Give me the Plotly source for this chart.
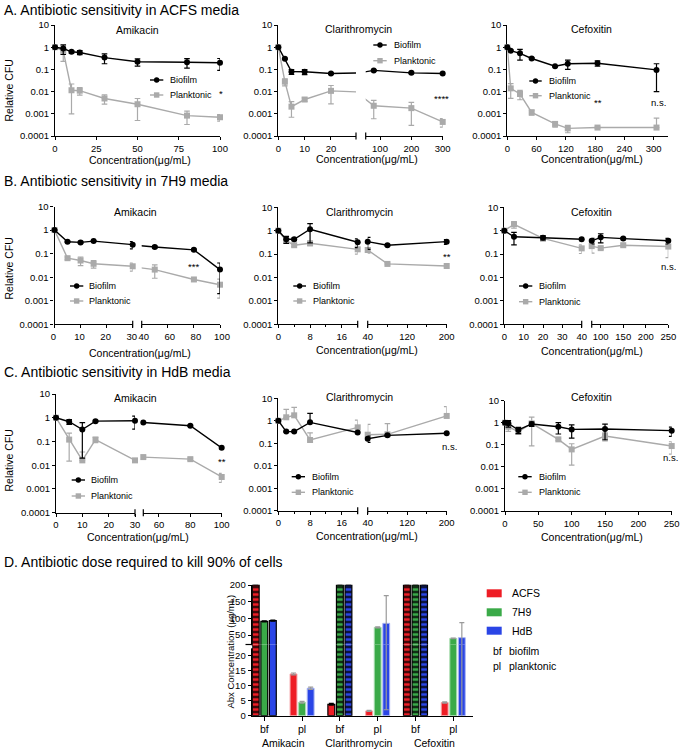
import plotly.graph_objects as go

W, H = 681, 749
FONT = "Liberation Sans, Arial, sans-serif"

# ---------------- data ----------------
LOG_TICKS = [1e-4, 1e-3, 1e-2, 1e-1, 1, 10]
LOG_LABELS = ["0.0001", "0.001", "0.01", "0.1", "1", "10"]

# A. ACFS
A_AMK_CONC = [0, 5, 10, 15, 30, 50, 80, 100]
A_AMK_BF = [1, 0.87, 0.62, 0.58, 0.34, 0.22, 0.21, 0.20]
A_AMK_BF_SD = [0, 0.4, 0.08, 0.12, 0.16, 0.08, 0.095, 0.11]
A_AMK_PL = [1, 0.68, 0.0115, 0.011, 0.0049, 0.0027, 0.00083, 0.0007]
A_AMK_PL_SD = [0, 0.45, 0.0105, 0.004, 0.0022, 0.0022, 0.0005, 0.00023]

A_CLA_CONC = [0, 2.5, 5, 10, 20, 80, 200, 300]
A_CLA_BF = [1, 0.30, 0.079, 0.078, 0.065, 0.09, 0.07, 0.065]
A_CLA_BF_SD = [0, 0.02, 0.02, 0.02, 0.005, 0.008, 0.005, 0.005]
A_CLA_PL = [1, 0.028, 0.0021, 0.0044, 0.0108, 0.0023, 0.0018, 0.00043]
A_CLA_PL_SD = [0, 0.01, 0.0014, 0.0008, 0.008, 0.0017, 0.0015, 0.00018]

A_CEF_CONC = [0, 7, 26, 50, 98, 124, 185, 306]
A_CEF_BF = [1, 0.7, 0.53, 0.31, 0.14, 0.18, 0.19, 0.095]
A_CEF_BF_SD = [0, 0.05, 0.27, 0.03, 0.01, 0.08, 0.05, 0.085]
A_CEF_PL = [1, 0.014, 0.0078, 0.00116, 0.00035, 0.00022, 0.00024, 0.00024]
A_CEF_PL_SD = [0, 0.009, 0.0035, 0.0003, 0.0001, 0.00008, 0.00002, 0.0004]

# B. 7H9
B_AMK_CONC = [0, 5, 10, 15, 30, 50, 80, 100]
B_AMK_BF = [1, 0.32, 0.30, 0.34, 0.24, 0.19, 0.145, 0.021]
B_AMK_BF_SD = [0, 0.02, 0.03, 0.02, 0.08, 0.02, 0.01, 0.019]
B_AMK_PL = [1, 0.064, 0.051, 0.037, 0.029, 0.021, 0.008, 0.0048]
B_AMK_PL_SD = [0, 0.008, 0.02, 0.013, 0.011, 0.012, 0.001, 0.0035]

B_CLA_CONC = [0, 2, 4, 8, 20, 40, 80, 200]
B_CLA_BF = [1, 0.43, 0.43, 1.15, 0.32, 0.34, 0.24, 0.34]
B_CLA_BF_SD = [0, 0.14, 0.05, 0.85, 0.13, 0.18, 0.02, 0.08]
B_CLA_PL = [1, 0.37, 0.24, 0.29, 0.16, 0.15, 0.038, 0.031]
B_CLA_PL_SD = [0, 0.03, 0.03, 0.06, 0.06, 0.04, 0.003, 0.003]

B_CEF_CONC = [0, 5, 20, 40, 80, 100, 150, 250]
B_CEF_BF = [1, 0.55, 0.50, 0.43, 0.37, 0.52, 0.46, 0.37]
B_CEF_BF_SD = [0, 0.3, 0.1, 0.05, 0.1, 0.22, 0.05, 0.1]
B_CEF_PL = [1, 1.87, 0.47, 0.176, 0.22, 0.18, 0.24, 0.21]
B_CEF_PL_SD = [0, 0.6, 0.1, 0.07, 0.11, 0.02, 0.03, 0.14]

# C. HdB
C_AMK_CONC = [0, 5, 10, 15, 30, 50, 80, 100]
C_AMK_BF = [1, 0.68, 0.32, 0.72, 0.75, 0.63, 0.46, 0.054]
C_AMK_BF_SD = [0, 0.15, 0.3, 0.05, 0.42, 0.03, 0.03, 0.005]
C_AMK_PL = [1, 0.12, 0.016, 0.12, 0.016, 0.022, 0.018, 0.0032]
C_AMK_PL_SD = [0, 0.105, 0.02, 0.03, 0.002, 0.003, 0.002, 0.0013]

C_CLA_CONC = [0, 2, 4, 8, 20, 40, 80, 200]
C_CLA_BF = [1, 0.33, 0.33, 0.85, 0.30, 0.16, 0.225, 0.28]
C_CLA_BF_SD = [0, 0.02, 0.02, 1.3, 0.03, 0.05, 0.02, 0.02]
C_CLA_PL = [1, 1.43, 1.75, 0.14, 0.51, 0.24, 0.25, 1.64]
C_CLA_PL_SD = [0, 1.8, 2.2, 0.15, 0.55, 0.45, 0.5, 2.6]

C_CEF_CONC = [0, 5, 20, 40, 80, 100, 150, 250]
C_CEF_BF = [1, 0.94, 0.47, 0.88, 0.66, 0.50, 0.52, 0.44]
C_CEF_BF_SD = [0, 0.3, 0.15, 0.2, 0.35, 0.3, 0.35, 0.2]
C_CEF_PL = [1, 0.66, 0.39, 0.94, 0.177, 0.062, 0.25, 0.088]
C_CEF_PL_SD = [0, 0.25, 0.08, 0.85, 0.02, 0.05, 0.1, 0.05]

# D. dose required to kill 90% (ug/mL); 200 = not reached
D_ABX = ["Amikacin", "Clarithromycin", "Cefoxitin"]
D_MEDIA = ["ACFS", "7H9", "HdB"]
D_ACFS_BF = [200, 3.8, 200]
D_ACFS_PL = [14.0, 1.6, 4.4]
D_7H9_BF = [91, 200, 200]
D_7H9_PL = [4.5, 73, 40]
D_HDB_BF = [93, 200, 200]
D_HDB_PL = [9.2, 85, 42]
D_ACFS_BF_SD = [0, 0.3, 0]
D_ACFS_PL_SD = [0.3, 0.2, 0.2]
D_7H9_BF_SD = [1.5, 0, 0]
D_7H9_PL_SD = [0.3, 1.5, 1.0]
D_HDB_BF_SD = [1.5, 0, 0]
D_HDB_PL_SD = [0.4, 83, 45]

# ---------------- styling helpers ----------------
BF_COLOR = "#000000"
PL_COLOR = "#aaaaaa"
MEDIA_COLORS = {"ACFS": "#ee1d25", "7H9": "#3aaa48", "HdB": "#2a45e6"}
TICK_SIZE = 9.5
LEG_SIZE = 9


def px(x):
    return x / W


def py(y):
    return 1 - y / H


layout = {}
shapes = []
annotations = []
traces = []
counters = {"x": 0, "y": 0}


def axis_name(kind):
    counters[kind] += 1
    n = counters[kind]
    if n == 1:
        return kind, kind + "axis"
    return f"{kind}{n}", f"{kind}axis{n}"


def ax_common():
    return dict(showgrid=False, zeroline=False, showline=True, linecolor="black",
                linewidth=1.2, ticks="outside", ticklen=3, tickwidth=1.2, tickcolor="black",
                tickfont=dict(family=FONT, size=TICK_SIZE, color="black"),
                layer="below traces", fixedrange=True, automargin=False)


def text(x, y, s, size=10, anchor="center", angle=0):
    annotations.append(dict(x=px(x), y=py(y), xref="paper", yref="paper", text=s,
                            showarrow=False, textangle=angle,
                            font=dict(family=FONT, size=size, color="black"),
                            xanchor=anchor, yanchor="middle"))


def line(x0, y0, x1, y1, color="black", width=1.2):
    shapes.append(dict(type="line", xref="paper", yref="paper", x0=px(x0), y0=py(y0),
                       x1=px(x1), y1=py(y1), line=dict(color=color, width=width)))


def blob(cx, cy, r, color, kind):
    shapes.append(dict(type=kind, xref="paper", yref="paper", x0=px(cx - r), x1=px(cx + r),
                       y0=py(cy + r), y1=py(cy - r), fillcolor=color, line=dict(width=0)))


def err_minus(vals, sd):
    return [s if s < v else 0 for v, s in zip(vals, sd)]


PANELS = [
    dict(data=(A_AMK_CONC, A_AMK_BF, A_AMK_BF_SD, A_AMK_PL, A_AMK_PL_SD), name="Amikacin",
         ybox=(25, 136), segs=[((55, 220), (0, 100), dict(dtick=25, tick0=0))],
         title=(137, 30), xlab=(140, 160), leg=(150, 163.3, 168, 80, 95),
         sig=[("*", 221, 94)], ylab=91),
    dict(data=(A_CLA_CONC, A_CLA_BF, A_CLA_BF_SD, A_CLA_PL, A_CLA_PL_SD), name="Clarithromycin",
         ybox=(25, 136), segs=[((278.3, 356), (0, 29.5), dict(dtick=10, tick0=0)),
                               ((365.7, 442.7), (54.4, 300), dict(dtick=100, tick0=0))],
         title=(358, 29), xlab=(366.7, 159.3), leg=(373.3, 386.7, 391.7, 45, 60.7),
         sig=[("****", 441.7, 98)]),
    dict(data=(A_CEF_CONC, A_CEF_BF, A_CEF_BF_SD, A_CEF_PL, A_CEF_PL_SD), name="Cefoxitin",
         ybox=(25, 136), segs=[((507.3, 668.2), (0, 330), dict(dtick=60, tick0=0))],
         title=(591.7, 29), xlab=(591.7, 159.3), leg=(529.3, 541.7, 547.3, 81, 95.7),
         sig=[("**", 598, 103), ("n.s.", 658, 102.7)]),
    dict(data=(B_AMK_CONC, B_AMK_BF, B_AMK_BF_SD, B_AMK_PL, B_AMK_PL_SD), name="Amikacin",
         ybox=(206.5, 324.3), segs=[((54.5, 132.7), (0, 30), dict(dtick=10, tick0=0, ticklabelshift=-1)),
                                    ((141.7, 220), (40, 100), dict(dtick=20, tick0=0, ticklabelshift=2))],
         title=(135, 211.7), xlab=(140, 353.3), leg=(70, 83.3, 87.3, 286, 301),
         sig=[("***", 193.3, 266)], ylab=269),
    dict(data=(B_CLA_CONC, B_CLA_BF, B_CLA_BF_SD, B_CLA_PL, B_CLA_PL_SD), name="Clarithromycin",
         ybox=(207.3, 324.3), segs=[((278.3, 357.7), (0, 20), dict(dtick=8, tick0=0, minor=4)),
                                    ((367.7, 446.7), (40, 200), dict(dtick=80, tick0=40, minor=40))],
         title=(359.3, 211.7), xlab=(366.7, 350), leg=(293.3, 306, 310.7, 286, 301),
         sig=[("**", 446.7, 256)]),
    dict(data=(B_CEF_CONC, B_CEF_BF, B_CEF_BF_SD, B_CEF_PL, B_CEF_PL_SD), name="Cefoxitin",
         ybox=(207.3, 324.3), segs=[((504.3, 581.7), (0, 40), dict(dtick=10, tick0=0)),
                                    ((591.7, 668.3), (80, 250), dict(dtick=50, tick0=0))],
         title=(591.7, 211.7), xlab=(591.7, 351), leg=(519, 532.3, 537.3, 286, 301.7),
         sig=[("n.s.", 668, 266)]),
    dict(data=(C_AMK_CONC, C_AMK_BF, C_AMK_BF_SD, C_AMK_PL, C_AMK_PL_SD), name="Amikacin",
         ybox=(394, 512.7), segs=[((56, 135), (0, 30), dict(dtick=10, tick0=0)),
                                  ((143.3, 221.7), (50, 100), dict(dtick=20, tick0=0))],
         title=(135, 398.3), xlab=(138.3, 536.7), leg=(71.7, 85, 89.3, 480, 496),
         sig=[("**", 221.7, 461.7)], ylab=461),
    dict(data=(C_CLA_CONC, C_CLA_BF, C_CLA_BF_SD, C_CLA_PL, C_CLA_PL_SD), name="Clarithromycin",
         ybox=(398.3, 510.7), segs=[((278.3, 357.7), (0, 20), dict(dtick=8, tick0=0, minor=4)),
                                    ((367.7, 446.7), (40, 200), dict(dtick=80, tick0=40, minor=40))],
         title=(359.3, 397.3), xlab=(366.7, 536), leg=(291.7, 305, 310, 476.7, 492.3),
         sig=[("n.s.", 449, 446)]),
    dict(data=(C_CEF_CONC, C_CEF_BF, C_CEF_BF_SD, C_CEF_PL, C_CEF_PL_SD), name="Cefoxitin",
         ybox=(400.7, 511), segs=[((505, 671.7), (0, 250), dict(dtick=50, tick0=0))],
         title=(591.7, 397.3), xlab=(591.7, 536.7), leg=(518.3, 531.7, 536.7, 476.7, 492.3),
         sig=[("n.s.", 670, 457.3)]),
]


def build_panel(spec):
    conc, bf, bfsd, pl, plsd = spec["data"]
    top, bot = spec["ybox"]
    yname, ykey = axis_name("y")
    seg_axes = []
    for (x0, x1), rng, tk in spec["segs"]:
        tk = dict(tk)
        minor = tk.pop("minor", None)
        xname, xkey = axis_name("x")
        ax = ax_common()
        ax.update(domain=[px(x0), px(x1)], range=list(rng), anchor=yname, **tk)
        if minor:
            ax["minor"] = dict(dtick=minor, tick0=tk.get("tick0", 0), ticks="outside",
                               ticklen=2, tickwidth=1, tickcolor="black")
        layout[xkey] = ax
        seg_axes.append((xname, rng))
    yax = ax_common()
    yax.update(type="log", domain=[py(bot), py(top)], range=[-4, 1], anchor=seg_axes[0][0],
               tickvals=LOG_TICKS, ticktext=LOG_LABELS)
    layout[ykey] = yax

    series = ((pl, plsd, PL_COLOR, "square"), (bf, bfsd, BF_COLOR, "circle"))
    for xname, rng in seg_axes:
        for vals, sd, color, symbol in series:
            traces.append(go.Scatter(x=conc, y=vals, mode="lines",
                                     line=dict(color=color, width=1.4),
                                     xaxis=xname, yaxis=yname, showlegend=False,
                                     hoverinfo="skip"))
            idx = [i for i, c in enumerate(conc) if rng[0] - 1e-9 <= c <= rng[1] + 1e-9]
            sv = [vals[i] for i in idx]
            ss = [sd[i] for i in idx]
            traces.append(go.Scatter(
                x=[conc[i] for i in idx], y=sv, mode="markers",
                marker=dict(color=color, symbol=symbol, size=6, line=dict(width=0)),
                error_y=dict(type="data", symmetric=False, array=ss,
                             arrayminus=err_minus(sv, ss), color=color,
                             thickness=1.2, width=2.8),
                cliponaxis=False, xaxis=xname, yaxis=yname, showlegend=False))
    # axis break marks
    for a, b in zip(spec["segs"][:-1], spec["segs"][1:]):
        for xb in (a[0][1], b[0][0]):
            line(xb, bot - 3.5, xb, bot + 3.5, width=1.2)
    # in-panel legend
    lx0, lx1, tx, yb, yp = spec["leg"]
    cx = (lx0 + lx1) / 2
    line(lx0, yb, lx1, yb, BF_COLOR, 1.4)
    blob(cx, yb, 2.7, BF_COLOR, "circle")
    text(tx, yb, "Biofilm", LEG_SIZE, "left")
    line(lx0, yp, lx1, yp, PL_COLOR, 1.4)
    blob(cx, yp, 2.7, PL_COLOR, "rect")
    text(tx, yp, "Planktonic", LEG_SIZE, "left")
    # texts
    text(spec["title"][0], spec["title"][1], spec["name"], 10.5)
    text(spec["xlab"][0], spec["xlab"][1], "Concentration(μg/mL)", 10.5)
    for s, x, y in spec["sig"]:
        text(x, y, s, 9.5)
    if "ylab" in spec:
        text(8.5, spec["ylab"], "Relative CFU", 10.5, angle=-90)


for spec in PANELS:
    build_panel(spec)

# row titles
text(2, 10, "A. Antibiotic sensitivity in ACFS media", 14, "left")
text(2, 181, "B. Antibiotic sensitivity in 7H9 media", 14, "left")
text(2, 372, "C. Antibiotic sensitivity in HdB media", 14, "left")
text(2, 561.5, "D. Antibiotic dose required to kill 90% of cells", 14, "left")

# ---------------- panel D: bars with broken y axis ----------------
yL_name, yL_key = axis_name("y")
yU_name, yU_key = axis_name("y")
xD_name, xD_key = axis_name("x")
xd = ax_common()
xd.update(type="multicategory", domain=[px(251.7), px(473.3)], range=[-0.333, 5.53],
          anchor=yL_name, showdividers=False, tickson="labels", ticklen=4,
          tickfont=dict(family=FONT, size=10.5, color="black"))
layout[xD_key] = xd
yl = ax_common()
yl.update(domain=[py(715.7), py(644.5)], range=[0, 23.85], anchor=xD_name, dtick=5, tick0=0)
layout[yL_key] = yl
yu = ax_common()
yu.update(domain=[py(644.5), py(584.5)], range=[21.5, 201.5], anchor=xD_name, dtick=50,
          tick0=0)
layout[yU_key] = yu
# y-axis break: gap in the axis line plus a longer mark at the end of the upper part
shapes.append(dict(type="rect", xref="paper", yref="paper", x0=px(250.6), x1=px(252.2),
                   y0=py(648.3), y1=py(645.2), fillcolor="white", line=dict(width=0)))
line(245.5, 644.5, 252.2, 644.5, width=1.2)

D_SERIES = [
    ("ACFS", D_ACFS_BF, D_ACFS_BF_SD, D_ACFS_PL, D_ACFS_PL_SD),
    ("7H9", D_7H9_BF, D_7H9_BF_SD, D_7H9_PL, D_7H9_PL_SD),
    ("HdB", D_HDB_BF, D_HDB_BF_SD, D_HDB_PL, D_HDB_PL_SD),
]
LIGHT_EDGE = {"ACFS": "#f6a3a6", "7H9": "#a6dcae", "HdB": "#a9b5f3"}
for yname in (yL_name, yU_name):
    for med, bfv, bfs, plv, pls in D_SERIES:
        c = MEDIA_COLORS[med]
        traces.append(go.Bar(
            x=[D_ABX, ["bf"] * 3], y=bfv, offsetgroup=med, xaxis=xD_name, yaxis=yname,
            marker=dict(color=c, line=dict(color="black", width=1.2),
                        pattern=dict(shape=["-" if v >= 200 else "" for v in bfv],
                                     fgcolor="black", bgcolor=c, size=5, solidity=0.38,
                                     fillmode="replace")),
            error_y=dict(type="data", array=bfs, color="black", thickness=1.2, width=2.5),
            showlegend=False))
    for med, bfv, bfs, plv, pls in D_SERIES:
        c = MEDIA_COLORS[med]
        traces.append(go.Bar(
            x=[D_ABX, ["pl"] * 3], y=plv, offsetgroup=med, xaxis=xD_name, yaxis=yname,
            marker=dict(color=c, line=dict(color=LIGHT_EDGE[med], width=1)),
            error_y=dict(type="data", array=pls, color="#9a9a9a", thickness=1.2, width=2.5),
            showlegend=False))

# D legend and labels
for med, yc in zip(D_MEDIA, (593.3, 612.3, 630.7)):
    shapes.append(dict(type="rect", xref="paper", yref="paper", x0=px(486.7), x1=px(501.7),
                       y0=py(yc + 4), y1=py(yc - 4), fillcolor=MEDIA_COLORS[med],
                       line=dict(width=0)))
    text(509.5, yc, med, 10.5, "left")
text(491, 651, "bf", 10.5, "left")
text(506.5, 651, "biofilm", 10.5, "left")
text(491, 666, "pl", 10.5, "left")
text(506.5, 666, "planktonic", 10.5, "left")
text(229.5, 652, "Abx Concentration (μg/mL)", 9.5, angle=-90)

fig = go.Figure(data=traces)
fig.update_layout(**layout)
fig.update_layout(width=W, height=H, margin=dict(l=0, r=0, t=0, b=0, autoexpand=False),
                  autosize=False, paper_bgcolor="white", plot_bgcolor="white",
                  showlegend=False, barmode="group", bargap=0.32, bargroupgap=0.2,
                  font=dict(family=FONT, size=10, color="black"),
                  shapes=shapes, annotations=annotations)
fig.write_html("out.html", config={"displayModeBar": False},
               post_script="document.body.style.margin='0px';"
                           "document.body.style.overflow='hidden';")
